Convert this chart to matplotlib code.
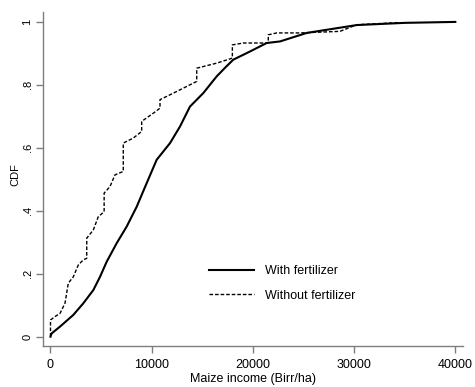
import matplotlib
matplotlib.use("Agg")
import matplotlib.pyplot as plt

# With fertilizer CDF (income, cumulative share)
with_x = [0, 100, 940, 2250, 3240, 4230, 4890, 5550, 6540, 7530, 8520, 9400,
          10490, 11810, 12800, 13780, 15100, 16420, 17300, 18060, 19710, 21360,
          22680, 25320, 27290, 30260, 35000, 40000]
with_y = [0.0, 0.01, 0.032, 0.069, 0.106, 0.148, 0.19, 0.238, 0.297, 0.35, 0.413, 0.48,
          0.562, 0.615, 0.668, 0.731, 0.774, 0.827, 0.856, 0.88, 0.906, 0.933,
          0.938, 0.965, 0.975, 0.99, 0.997, 1.0]

# Without fertilizer CDF
without_x = [0, 0, 450, 940, 1430, 1760, 2250, 2750, 3240, 3580, 3580, 4230, 4720,
             5300, 5300, 5880, 6370, 7190, 7190, 8180, 9010, 9010, 10160, 10820,
             10820, 12470, 14450, 14450, 16420, 17970, 17970, 19060, 21520, 21520,
             22350, 24650, 28600, 30260, 34500]
without_y = [0.0, 0.053, 0.064, 0.074, 0.106, 0.17, 0.19, 0.228, 0.244, 0.249, 0.313,
             0.339, 0.381, 0.397, 0.456, 0.477, 0.514, 0.525, 0.615, 0.631, 0.652,
             0.684, 0.71, 0.726, 0.753, 0.779, 0.811, 0.853, 0.869, 0.885, 0.927,
             0.933, 0.933, 0.959, 0.965, 0.965, 0.97, 0.991, 0.998]

xticks = [0, 10000, 20000, 30000, 40000]
yticks = [0, 0.2, 0.4, 0.6, 0.8, 1.0]
ytick_labels = ["0", ".2", ".4", ".6", ".8", "1"]

FAM = ["Liberation Sans", "DejaVu Sans"]
plt.rcParams["font.family"] = FAM

fig = plt.figure(figsize=(4.75, 3.87), dpi=100)
ax = fig.add_axes([43 / 475, 41 / 387, 420 / 475, 334 / 387])

ax.plot(with_x, with_y, color="black", lw=1.5, solid_joinstyle="round",
        label="With fertilizer")
ax.plot(without_x, without_y, color="black", lw=1.0, linestyle=(0, (2.6, 1.4)),
        label="Without fertilizer")

ax.set_xlim(-741, 40760)
ax.set_ylim(-0.0296, 1.0315)
ax.set_xticks(xticks)
ax.set_xticklabels([str(v) for v in xticks])
ax.set_yticks(yticks)
ax.set_yticklabels(ytick_labels, rotation=90, va="center")

for s in ["top", "right"]:
    ax.spines[s].set_visible(False)
for s in ["left", "bottom"]:
    ax.spines[s].set_color("#7f7f7f")
    ax.spines[s].set_linewidth(1.0)
ax.tick_params(axis="both", colors="#7f7f7f", length=5, width=1.0, labelcolor="black")
ax.tick_params(axis="x", pad=4.5, labelsize=9)
ax.tick_params(axis="y", pad=2.5, labelsize=8)

ax.set_xlabel("Maize income (Birr/ha)", fontsize=9)
ax.xaxis.set_label_coords(0.5, -0.081)
ax.set_ylabel("CDF", fontsize=8)
ax.yaxis.set_label_coords(-0.0536, 0.512)

leg = ax.legend(loc="center left", bbox_to_anchor=(0.395, 0.187), frameon=False,
                fontsize=9, handlelength=3.6, handletextpad=0.88,
                labelspacing=1.0, borderpad=0, borderaxespad=0)

fig.savefig("out.png", dpi=100)
